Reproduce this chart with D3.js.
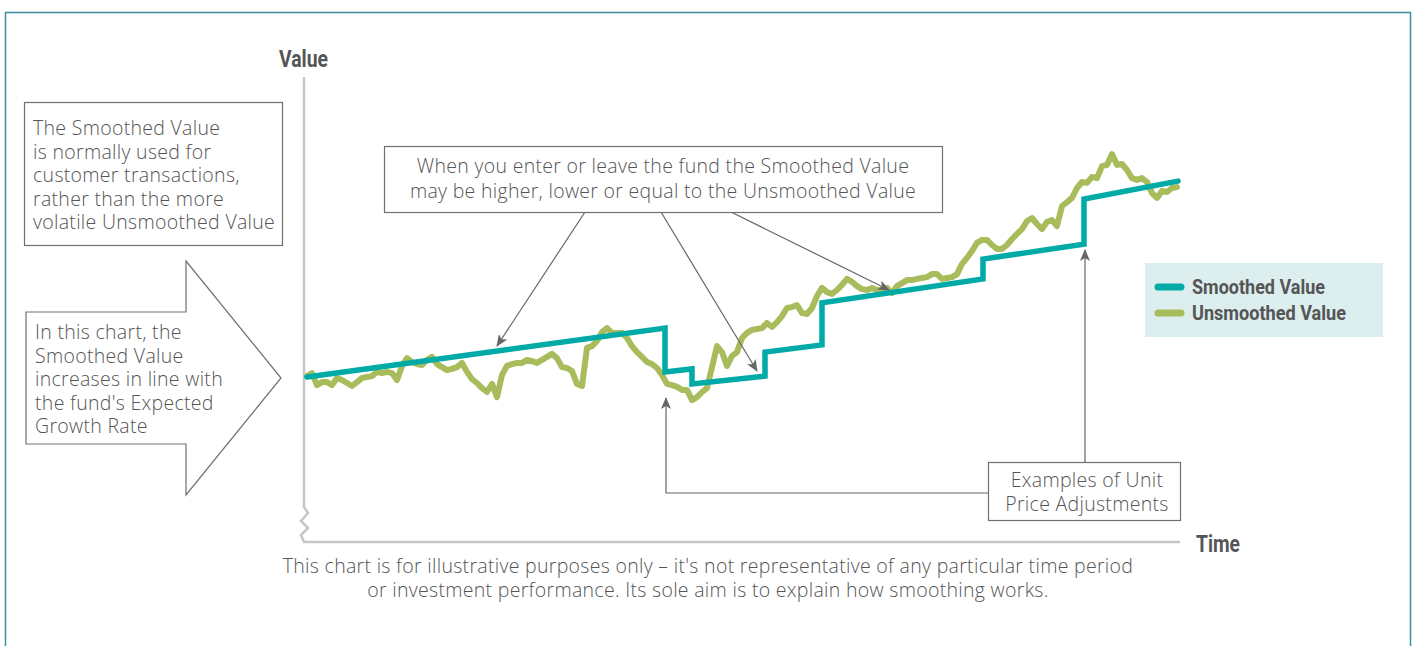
<!DOCTYPE html>
<html lang="en">
<head>
<meta charset="UTF-8">
<title>Smoothed vs Unsmoothed Value</title>
<script src="https://d3js.org/d3.v7.min.js"></script>
<style>
  body { margin: 0; background: #fff; }
  .note { font-family: "Open Sans", "Noto Sans", sans-serif; font-weight: 300; fill: #555; letter-spacing: 0.3px; }
  .head { font-family: Roboto, "DejaVu Sans", sans-serif; font-weight: bold; fill: #555; }
</style>
</head>
<body>
<script>
// unsmoothed value, one reading per period (0..174)
const unsmoothed = [
  100.3, 101.3, 97.3, 98.3, 98.3, 97.3, 99.7, 99.0, 98.0, 97.0,
  98.3, 99.7, 100.0, 100.3, 101.7, 101.3, 101.7, 101.3, 99.0, 103.7,
  106.3, 105.0, 104.3, 104.0, 105.7, 106.7, 104.3, 103.3, 102.3, 102.7,
  103.3, 104.7, 101.7, 99.3, 98.0, 96.3, 95.0, 97.7, 93.3, 100.7,
  103.7, 104.3, 104.7, 104.7, 105.7, 105.3, 104.7, 105.7, 106.7, 107.7,
  106.3, 103.3, 103.0, 102.0, 97.7, 97.0, 109.7, 110.3, 112.0, 115.0,
  116.3, 114.7, 114.7, 114.7, 113.0, 110.3, 108.3, 106.7, 105.0, 104.3,
  103.0, 100.7, 97.7, 97.3, 96.7, 95.7, 95.7, 92.3, 93.3, 95.0,
  96.3, 103.3, 110.3, 108.3, 103.7, 107.0, 108.3, 113.0, 114.7, 115.7,
  116.0, 116.3, 118.0, 116.7, 118.3, 120.3, 123.0, 123.3, 124.0, 121.3,
  121.0, 123.0, 127.0, 129.7, 128.3, 127.7, 129.0, 130.7, 132.7, 131.7,
  130.3, 129.3, 129.0, 129.7, 129.0, 129.0, 129.7, 128.0, 130.3, 131.3,
  132.3, 132.3, 132.7, 133.0, 133.3, 134.3, 134.3, 132.7, 133.0, 133.3,
  134.3, 137.7, 139.7, 142.0, 144.7, 145.7, 145.7, 144.0, 142.7, 142.7,
  144.0, 146.0, 147.7, 149.3, 152.0, 153.0, 151.0, 149.3, 151.7, 152.3,
  150.3, 157.0, 158.3, 159.7, 163.0, 165.0, 164.7, 166.7, 166.3, 170.3,
  170.7, 174.3, 170.7, 171.0, 169.0, 166.3, 165.7, 166.3, 165.0, 161.3,
  159.7, 162.0, 161.7, 163.0, 163.3
];

// smoothed value: growth segments joined by unit price adjustments
const smoothTimes  = [0, 71.6, 71.6, 77, 77, 91.6, 91.6, 103, 103, 135.2, 135.2, 155.4, 155.4, 174.2];
const smoothValues = [100, 116.3, 101.7, 102.7, 97.7, 100.3, 108.3, 110.7, 124.7, 132.7, 139.3, 144.3, 159.3, 165.3];

const seriesNames = ["Smoothed Value", "Unsmoothed Value"];
const seriesColors = ["#00aaa7", "#a8bc5c"];
const legendWidths = [133, 154];

const W = 1416, H = 646;
const svg = d3.select("body").append("svg")
  .attr("width", W).attr("height", H);

// outer frame
svg.append("rect")
  .attr("x", 5.5).attr("y", 12.5).attr("width", 1405).attr("height", 700)
  .attr("fill", "none").attr("stroke", "#3a8ea0").attr("stroke-width", 1.5);

const x = d3.scaleLinear().domain([0, unsmoothed.length - 1]).range([307, 1177]);
const y = d3.scaleLinear().domain([45, 200]).range([542, 77]);

// arrow head
svg.append("defs").append("marker")
  .attr("id", "arr")
  .attr("viewBox", "0 0 12 10")
  .attr("refX", 11).attr("refY", 5)
  .attr("markerWidth", 12).attr("markerHeight", 10)
  .attr("markerUnits", "userSpaceOnUse")
  .attr("orient", "auto")
  .append("path")
  .attr("d", "M0,0 L12,5 L0,10 L3,5 Z")
  .attr("fill", "#666");

// axes with break
const axisPath = d3.path();
axisPath.moveTo(304, 77);
axisPath.lineTo(304, 507);
axisPath.lineTo(308, 513);
axisPath.lineTo(301, 521);
axisPath.lineTo(308, 528);
axisPath.lineTo(301, 535);
axisPath.lineTo(304, 542);
axisPath.lineTo(1180, 542);
svg.append("path")
  .attr("d", axisPath.toString())
  .attr("fill", "none").attr("stroke", "#c6c6c6").attr("stroke-width", 2.5);

svg.append("text").attr("class", "head")
  .attr("x", 279).attr("y", 67).attr("font-size", 23)
  .attr("textLength", 49).attr("lengthAdjust", "spacingAndGlyphs").text("Value");
svg.append("text").attr("class", "head")
  .attr("x", 1196).attr("y", 552).attr("font-size", 23)
  .attr("textLength", 44).attr("lengthAdjust", "spacingAndGlyphs").text("Time");

// lines
const line = d3.line().x(d => x(d[0])).y(d => y(d[1]));

svg.append("path")
  .datum(unsmoothed.map((v, i) => [i, v]))
  .attr("d", line)
  .attr("fill", "none").attr("stroke", seriesColors[1])
  .attr("stroke-width", 6).attr("stroke-linejoin", "round").attr("stroke-linecap", "round");

svg.append("path")
  .datum(smoothTimes.map((t, i) => [t, smoothValues[i]]))
  .attr("d", line)
  .attr("fill", "none").attr("stroke", seriesColors[0])
  .attr("stroke-width", 5.5).attr("stroke-linejoin", "miter").attr("stroke-linecap", "round");

// text helper
function lines(g, arr, x0, y0, lh, anchor, size) {
  const t = g.append("text").attr("class", "note").attr("font-size", size)
    .attr("text-anchor", anchor || "start");
  t.selectAll("tspan").data(arr).join("tspan")
    .attr("x", x0).attr("y", (d, i) => y0 + i * lh).text(d => d);
  return t;
}

const ann = svg.append("g");
const fs = 19.5;

// box 1
ann.append("rect").attr("x", 24.5).attr("y", 102.5).attr("width", 258).attr("height", 143)
  .attr("fill", "#fff").attr("stroke", "#707070").attr("stroke-width", 1.2);
lines(ann, ["The Smoothed Value", "is normally used for", "customer transactions,",
  "rather than the more", "volatile Unsmoothed Value"], 33, 135, 23.5, "start", fs);

// big arrow
ann.append("path")
  .attr("d", "M26,312 L186,312 L186,261 L281,378 L186,495 L186,444 L26,444 Z")
  .attr("fill", "#fff").attr("stroke", "#707070").attr("stroke-width", 1.2);
lines(ann, ["In this chart, the", "Smoothed Value", "increases in line with",
  "the fund's Expected", "Growth Rate"], 35, 339, 23.5, "start", fs);

// box 2 + arrows
[[585, 212, 497, 346], [661, 212, 757, 371], [731, 212, 889, 290]].forEach(a => {
  ann.append("line").attr("x1", a[0]).attr("y1", a[1]).attr("x2", a[2]).attr("y2", a[3])
    .attr("stroke", "#666").attr("stroke-width", 1.2).attr("marker-end", "url(#arr)");
});
ann.append("rect").attr("x", 384.5).attr("y", 146.5).attr("width", 558).attr("height", 66)
  .attr("fill", "#fff").attr("stroke", "#707070").attr("stroke-width", 1.2);
lines(ann, ["When you enter or leave the fund the Smoothed Value",
  "may be higher, lower or equal to the Unsmoothed Value"], 663, 173, 24.5, "middle", fs);

// box 3 + connectors
ann.append("path").attr("d", "M988,493 L666,493 L666,398")
  .attr("fill", "none").attr("stroke", "#666").attr("stroke-width", 1.2).attr("marker-end", "url(#arr)");
ann.append("path").attr("d", "M1085,462 L1085,250")
  .attr("fill", "none").attr("stroke", "#666").attr("stroke-width", 1.2).attr("marker-end", "url(#arr)");
ann.append("rect").attr("x", 988.5).attr("y", 462.5).attr("width", 192).attr("height", 58)
  .attr("fill", "#fff").attr("stroke", "#707070").attr("stroke-width", 1.2);
lines(ann, ["Examples of Unit", "Price Adjustments"], 1087, 487, 24, "middle", fs);

// legend
const lg = svg.append("g");
lg.append("rect").attr("x", 1145).attr("y", 263).attr("width", 238).attr("height", 74).attr("fill", "#dceeee");
seriesNames.forEach((n, i) => {
  const yy = 287 + i * 26;
  lg.append("line").attr("x1", 1158).attr("x2", 1181).attr("y1", yy).attr("y2", yy)
    .attr("stroke", seriesColors[i]).attr("stroke-width", 7).attr("stroke-linecap", "round");
  lg.append("text").attr("class", "head").attr("x", 1192).attr("y", yy + 7)
    .attr("font-size", 21).attr("textLength", legendWidths[i])
    .attr("lengthAdjust", "spacingAndGlyphs").text(n);
});

// footnote
lines(svg, ["This chart is for illustrative purposes only \u2013 it's not representative of any particular time period",
  "or investment performance. Its sole aim is to explain how smoothing works."], 708, 573, 24, "middle", fs);
</script>
</body>
</html>
